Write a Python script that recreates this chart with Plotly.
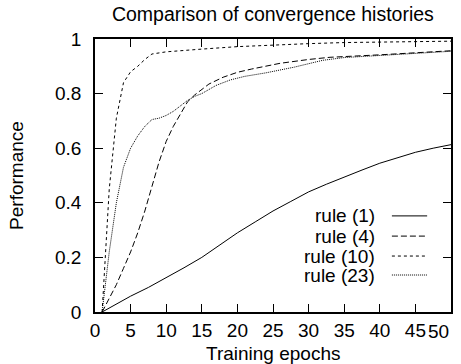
import plotly.graph_objects as go

# ---- data ----
rule1_x = [1, 3, 5, 7.5, 10, 12.5, 15, 17.5, 20, 22.5, 25, 27.5, 30, 32.5, 35, 37.5, 40, 42.5, 45, 47.5, 50]
rule1_y = [0, 0.03, 0.058, 0.09, 0.125, 0.162, 0.20, 0.245, 0.29, 0.33, 0.37, 0.405, 0.44,
           0.468, 0.495, 0.52, 0.545, 0.565, 0.585, 0.60, 0.613]

rule4_x = [1, 2, 3, 4, 5, 6, 7, 8, 9, 10, 11, 12, 13, 14, 15, 16, 18, 20, 22, 26, 30, 33, 40, 45, 50]
rule4_y = [0, 0.05, 0.10, 0.16, 0.22, 0.29, 0.37, 0.46, 0.55, 0.625, 0.68, 0.725, 0.77, 0.795,
           0.815, 0.835, 0.86, 0.878, 0.89, 0.911, 0.925, 0.933, 0.942, 0.95, 0.957]

rule10_x = [1, 2, 3, 4, 5, 6, 7, 8, 10, 12, 15, 20, 25, 30, 35, 40, 45, 50]
rule10_y = [0, 0.45, 0.71, 0.84, 0.88, 0.90, 0.925, 0.945, 0.953, 0.958, 0.963, 0.972,
            0.978, 0.983, 0.987, 0.989, 0.99, 0.992]

rule23_x = [1, 2, 3, 4, 5, 6, 7, 8, 9, 10, 11, 12, 13, 14, 15, 17, 19, 21, 24, 28, 30, 32, 35, 40, 45, 50]
rule23_y = [0, 0.22, 0.40, 0.53, 0.60, 0.645, 0.68, 0.705, 0.71, 0.72, 0.735, 0.755, 0.775, 0.79,
            0.80, 0.83, 0.85, 0.863, 0.876, 0.897, 0.91, 0.922, 0.932, 0.94, 0.948, 0.955]

series_names = ["rule (1)", "rule (4)", "rule (10)", "rule (23)"]
series_dash = ["solid", "6px,3px", "3px,3px", "1px,1px"]

x_ticks = [0, 5, 10, 15, 20, 25, 30, 35, 40, 45, 50]
x_tick_labels = ["0", "5", "10", "15", "20", "25", "30", "35", "40", "45", "50"]
y_ticks = [0, 0.2, 0.4, 0.6, 0.8, 1]

FONT = "Liberation Sans"
FS = 19
TXT = dict(family=FONT, size=FS, color="black")

fig = go.Figure()
data = [(rule1_x, rule1_y), (rule4_x, rule4_y), (rule10_x, rule10_y), (rule23_x, rule23_y)]
for (xs, ys), name, dash in zip(data, series_names, series_dash):
    fig.add_trace(go.Scatter(x=xs, y=ys, mode="lines", name=name,
                             line=dict(color="black", width=1, dash=dash),
                             showlegend=False))

# gnuplot-style key: right-aligned text followed by line sample
key_rows = [0.352, 0.278, 0.205, 0.1355]
for name, dash, yk in zip(series_names, series_dash, key_rows):
    fig.add_annotation(xref="paper", yref="paper", x=0.792, y=yk, text=name,
                       showarrow=False, xanchor="right", yanchor="middle", font=TXT)
    fig.add_shape(type="line", xref="paper", yref="paper", x0=0.834, x1=0.933,
                  y0=yk, y1=yk, line=dict(color="black", width=1, dash=dash))

axis_common = dict(showline=True, linecolor="black", linewidth=1.5, mirror="ticks",
                   ticks="inside", ticklen=8, tickcolor="black", tickwidth=1,
                   showgrid=False, zeroline=False, automargin=False, tickfont=TXT)

# last x label is kept inside the page (right-aligned to the frame) as in the reference
x_text = x_tick_labels[:-1] + [""]
fig.add_annotation(x=x_ticks[-1], xref="x", yref="paper", y=-19 / 273, text=x_tick_labels[-1],
                   showarrow=False, xanchor="right", yanchor="middle", font=TXT)

fig.update_xaxes(range=[0, 50], tickvals=x_ticks, ticktext=x_text, ticklabelstandoff=0,
                 **axis_common)
fig.add_annotation(xref="paper", yref="paper", x=0.5, y=-41 / 273, text="Training epochs",
                   showarrow=False, xanchor="center", yanchor="middle", font=TXT)

fig.update_yaxes(range=[0, 1], tickvals=y_ticks, ticklabelstandoff=8,
                 title=dict(text="Performance", font=TXT, standoff=26),
                 **axis_common)

fig.update_layout(
    width=461, height=364,
    margin=dict(l=95, r=10, t=39, b=52),
    paper_bgcolor="white", plot_bgcolor="white",
    title=dict(text="Comparison of convergence histories", x=0.592, xanchor="center",
               y=1 - 14 / 364, yanchor="middle",
               font=dict(family=FONT, size=19.5, color="black")),
    font=dict(family=FONT, color="black"),
)

fig.write_html("out.html")
